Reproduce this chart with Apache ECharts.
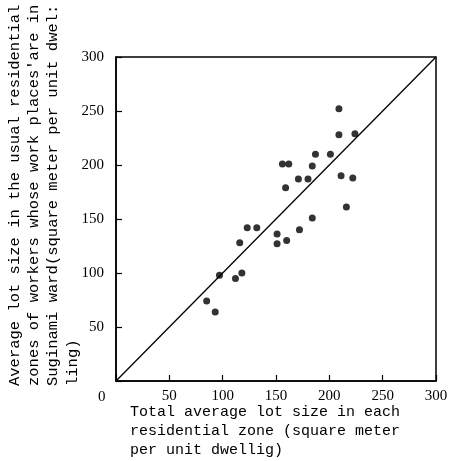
<!DOCTYPE html>
<html lang="en">
<head>
    <meta charset="UTF-8">
    <title>lot size scatter</title>
    <script src="https://cdn.jsdelivr.net/npm/echarts@6/dist/echarts.min.js"></script>
    <style>
        html, body { margin: 0; padding: 0; background: #fff; }
    </style>
</head>
<body>
<div id="main" style="width: 458px;height:461px;"></div>

<script type="text/javascript">
    // total average lot size (x) vs lot size of workers in Suginami ward (y)
    var totalLot  = [85, 93, 97, 112, 118, 116, 123, 132, 151, 151, 160, 172, 156, 162,
                     159, 171, 180, 184, 187, 201, 184, 209, 209, 224, 211, 222, 216];
    var workerLot = [74, 64, 98, 95, 100, 128, 142, 142, 136, 127, 130, 140, 201, 201,
                     179, 187, 187, 199, 210, 210, 151, 252, 228, 229, 190, 188, 161];
    // 45 degree reference line
    var refX = [0, 300];
    var refY = [0, 300];
    var tickValues = [0, 50, 100, 150, 200, 250, 300];

    var points = totalLot.map(function (v, i) { return [v, workerLot[i]]; });
    var refLine = refX.map(function (v, i) { return [v, refY[i]]; });

    var myChart = echarts.init(document.getElementById('main'));

    var tickFont = {
        color: '#000',
        fontFamily: 'Liberation Serif',
        fontSize: 15
    };

    function hideZero(v) {
        return v === 0 ? '' : String(v);
    }

    myChart.setOption({
        animation: false,
        backgroundColor: '#fff',
        grid: {
            left: 116,
            right: 22,
            top: 57,
            bottom: 80,
            show: true,
            borderColor: '#000',
            borderWidth: 1.5,
            backgroundColor: 'transparent'
        },
        xAxis: {
            type: 'value',
            min: tickValues[0],
            max: tickValues[tickValues.length - 1],
            interval: 50,
            axisLine: { show: true, lineStyle: { color: '#000', width: 1.5 } },
            axisTick: { show: true, inside: true, length: 6, lineStyle: { color: '#000', width: 1.2 } },
            splitLine: { show: false },
            axisLabel: Object.assign({ margin: 8, formatter: hideZero }, tickFont)
        },
        yAxis: {
            type: 'value',
            min: tickValues[0],
            max: tickValues[tickValues.length - 1],
            interval: 50,
            axisLine: { show: true, lineStyle: { color: '#000', width: 1.5 } },
            axisTick: { show: true, inside: true, length: 6, lineStyle: { color: '#000', width: 1.2 } },
            splitLine: { show: false },
            axisLabel: Object.assign({ margin: 12, formatter: hideZero }, tickFont)
        },
        series: [
            {
                type: 'line',
                data: refLine,
                symbol: 'none',
                lineStyle: { color: '#000', width: 1.3 },
                z: 2
            },
            {
                type: 'scatter',
                data: points,
                symbol: 'circle',
                symbolSize: 7,
                itemStyle: { color: '#000' },
                z: 3
            }
        ],
        graphic: [
            {
                type: 'text',
                left: 98,
                top: 390,
                style: {
                    text: '0',
                    fill: '#000',
                    font: '15px "Liberation Serif"'
                }
            },
            {
                type: 'text',
                x: 130,
                y: 403,
                style: {
                    text: 'Total average lot size in each\nresidential zone (square meter\nper unit dwellig)',
                    fill: '#000',
                    font: '15px "Liberation Mono"',
                    lineHeight: 19,
                    align: 'left',
                    verticalAlign: 'top'
                }
            },
            {
                type: 'text',
                x: 5,
                y: 386,
                rotation: Math.PI / 2,
                style: {
                    text: "Average lot size in the usual residential\nzones of workers whose work places'are in\nSuginami ward(square meter per unit dwel:\nling)",
                    fill: '#000',
                    font: '15.5px "Liberation Mono"',
                    lineHeight: 19.3,
                    align: 'left',
                    verticalAlign: 'top'
                }
            }
        ]
    });
</script>
</body>
</html>
